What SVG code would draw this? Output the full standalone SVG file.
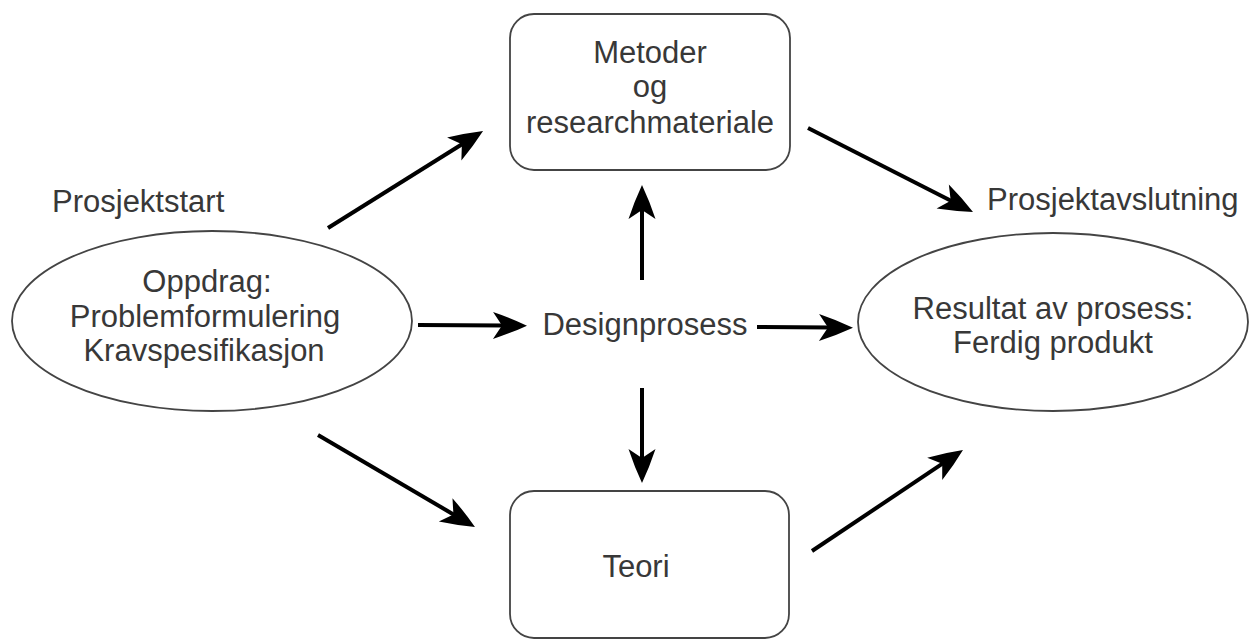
<svg xmlns="http://www.w3.org/2000/svg" width="1250" height="640" viewBox="0 0 1250 640">
<style>
.shape{fill:#fff;stroke:#444;stroke-width:1.8}
.t{font-family:"Liberation Sans",Arial,sans-serif;font-size:31px;fill:#383838;text-anchor:middle}
.tl{font-family:"Liberation Sans",Arial,sans-serif;font-size:31px;fill:#383838}
.arr{stroke:#000;stroke-width:4;fill:none;marker-end:url(#ah)}
</style>
<defs>
<marker id="ah" markerUnits="userSpaceOnUse" markerWidth="36" markerHeight="28" viewBox="0 0 36 28" refX="13" refY="14" orient="auto">
<path d="M35,14 Q19,6.5 1,0.5 L10,14 L1,27.5 Q19,21.5 35,14 Z" fill="#000"/>
</marker>
</defs>
<rect width="1250" height="640" fill="#fff"/>
<g id="connectors">
<line class="arr" x1="328" y1="228" x2="464.4" y2="142.7"/>
<line class="arr" x1="808" y1="128" x2="953.4" y2="202"/>
<line class="arr" x1="418" y1="325" x2="505" y2="325.5"/>
<line class="arr" x1="757" y1="327" x2="831" y2="327.5"/>
<line class="arr" x1="642" y1="280" x2="642" y2="207"/>
<line class="arr" x1="642" y1="388" x2="642" y2="461"/>
<line class="arr" x1="318" y1="435" x2="456" y2="515.9"/>
<line class="arr" x1="812" y1="551" x2="944.7" y2="462.2"/>
</g>
<g id="metoder">
<rect class="shape" x="510" y="14" width="280" height="156" rx="24"/>
<text class="t" x="650" y="63">Metoder</text>
<text class="t" x="650" y="97">og</text>
<text class="t" x="650" y="133">researchmateriale</text>
</g>
<g id="teori">
<rect class="shape" x="510" y="491" width="279" height="147" rx="24"/>
<text class="t" x="636" y="577">Teori</text>
</g>
<g id="oppdrag">
<ellipse class="shape" cx="212" cy="321" rx="200" ry="90"/>
<text class="t" x="207" y="292">Oppdrag:</text>
<text class="t" x="205" y="327">Problemformulering</text>
<text class="t" x="204" y="361">Kravspesifikasjon</text>
</g>
<g id="resultat">
<ellipse class="shape" cx="1053" cy="322" rx="195" ry="89"/>
<text class="t" x="1053" y="319">Resultat av prosess:</text>
<text class="t" x="1053" y="353">Ferdig produkt</text>
</g>
<g id="designprosess">
<text class="t" x="645" y="335">Designprosess</text>
</g>
<g id="labels">
<text class="tl" x="52" y="212">Prosjektstart</text>
<text class="tl" x="987" y="210">Prosjektavslutning</text>
</g>
</svg>
